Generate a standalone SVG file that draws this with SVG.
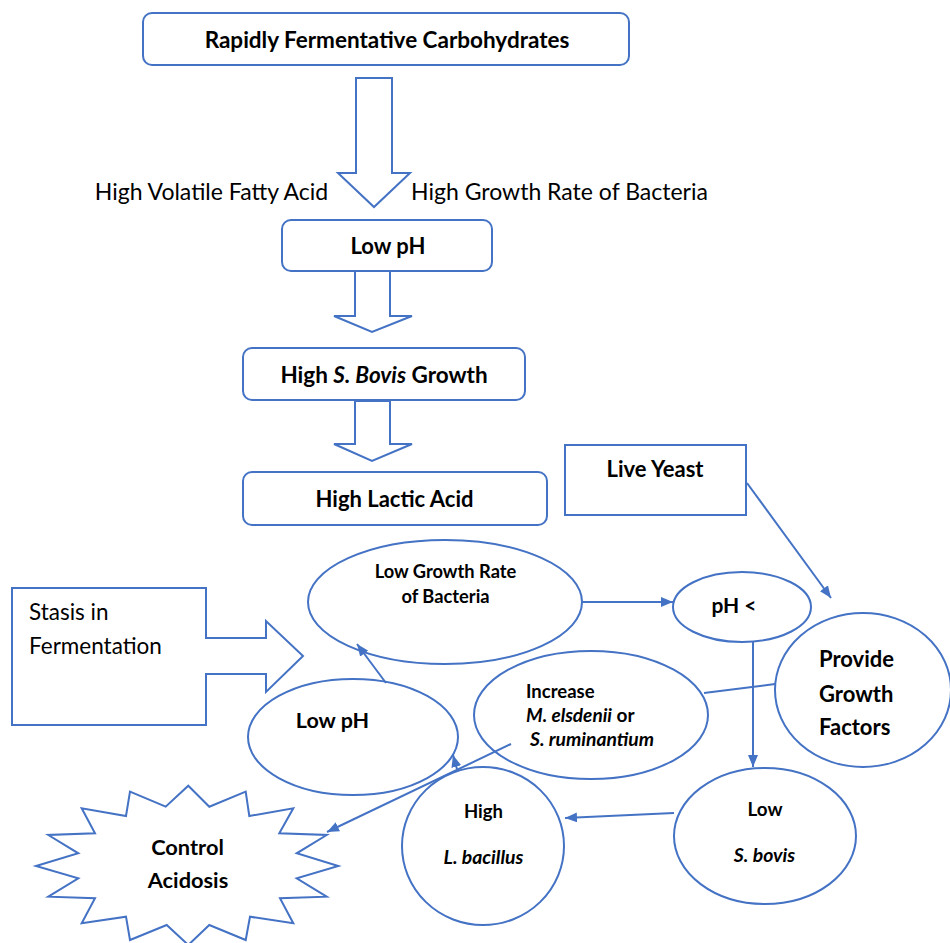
<svg xmlns="http://www.w3.org/2000/svg" width="950" height="943" viewBox="0 0 950 943">
<defs>
<style>
.s{fill:#fff;stroke:#4472C4;stroke-width:2}
.c{fill:none;stroke:#4472C4;stroke-width:2}
.b{font-family:Lato,"Liberation Sans",sans-serif;font-weight:bold;fill:#000}
.r{font-family:Lato,"Liberation Sans",sans-serif;fill:#000}
.m{text-anchor:middle}
</style>
<marker id="ah" viewBox="0 0 12 10" markerWidth="12" markerHeight="10" refX="12" refY="5" orient="auto" markerUnits="userSpaceOnUse">
<path d="M0,0 L12,5 L0,10 z" fill="#4472C4"/>
</marker>
</defs>
<rect width="950" height="943" fill="#fff"/>

<g id="n-carbs">
<rect class="s" x="143" y="13" width="486" height="52" rx="9"/>
<text class="b m" x="387" y="48" font-size="22.5">Rapidly Fermentative Carbohydrates</text>
</g>
<g id="a-top">
<polygon class="s" points="356,78 392,78 392,173 410,173 374,207 338,173 356,173"/>
<text class="r m" x="211.5" y="200" font-size="23">High Volatile Fatty Acid</text>
<text class="r m" x="559.5" y="200" font-size="23">High Growth Rate of Bacteria</text>
</g>
<g id="n-lowph1">
<rect class="s" x="282" y="220" width="210" height="51" rx="9"/>
<text class="b m" x="388" y="254" font-size="22">Low pH</text>
</g>
<g id="a-2">
<polygon class="s" points="355,271 390,271 390,316 412,316 372,332 334,316 355,316"/>
</g>
<g id="n-sbovis">
<rect class="s" x="243" y="348" width="282" height="52" rx="9"/>
<text class="b m" x="384" y="383" font-size="22.5">High <tspan font-style="italic">S. Bovis</tspan> Growth</text>
</g>
<g id="a-3">
<polygon class="s" points="355,401 390,401 390,444 412,444 372,461 334,444 355,444"/>
</g>
<g id="n-lactic">
<rect class="s" x="243" y="472" width="304" height="53" rx="9"/>
<text class="b m" x="394.5" y="507" font-size="22">High Lactic Acid</text>
</g>
<g id="n-yeast">
<rect class="s" x="565" y="445" width="181" height="70"/>
<text class="b m" x="655" y="477" font-size="22">Live Yeast</text>
</g>
<g id="n-stasis">
<polygon class="s" points="12,588 206,588 206,638 266,638 266,621 303,656 266,692 266,674 206,674 206,725 12,725"/>
<text class="r" x="29" y="620" font-size="22.5">Stasis in</text>
<text class="r" x="29" y="654" font-size="22.5">Fermentation</text>
</g>
<g id="n-lowgrowth">
<ellipse class="s" cx="445" cy="602" rx="137" ry="62"/>
<text class="b m" x="445.5" y="578" font-size="18.3">Low Growth Rate</text>
<text class="b m" x="445.5" y="603" font-size="18.3">of Bacteria</text>
</g>
<g id="n-phlt">
<ellipse class="s" cx="742" cy="607" rx="69" ry="35"/>
<text class="b m" x="734" y="613" font-size="21">pH &lt;</text>
</g>
<g id="n-provide">
<ellipse class="s" cx="863" cy="690" rx="88" ry="77"/>
<text class="b" x="819" y="667" font-size="22">Provide</text>
<text class="b" x="819" y="702" font-size="22">Growth</text>
<text class="b" x="819" y="735" font-size="22">Factors</text>
</g>
<g id="n-lowph2">
<ellipse class="s" cx="353" cy="737" rx="105" ry="58"/>
<text class="b m" x="332.5" y="728" font-size="21.5">Low pH</text>
</g>
<g id="n-increase">
<ellipse class="s" cx="591" cy="715" rx="117" ry="64"/>
<text class="b" x="526" y="698" font-size="18.5">Increase</text>
<text class="b" x="526" y="722" font-size="19">
<tspan font-style="italic">M. elsdenii</tspan> or</text>
<text class="b" x="530" y="746" font-size="19.3" font-style="italic">S. ruminantium</text>
</g>
<g id="n-lbacillus">
<ellipse class="s" cx="483" cy="846" rx="81" ry="79"/>
<text class="b m" x="483.5" y="818" font-size="18.5">High</text>
<text class="b m" x="483.5" y="864" font-size="19.4" font-style="italic">L. bacillus</text>
</g>
<g id="n-lowsbovis">
<ellipse class="s" cx="765" cy="836" rx="91" ry="68"/>
<text class="b m" x="765" y="816" font-size="18.8">Low</text>
<text class="b m" x="764.5" y="862" font-size="19.4" font-style="italic">S. bovis</text>
</g>
<g id="n-control">
<polygon class="s" points="188.3,785.7 209.3,806.7 245.7,791.7 249.3,816 293.3,808.3 279.3,833.3 326.7,835 296.7,853.3 338.3,866 296.7,878.3 326.7,896.7 280,898.3 293.3,923.3 250,916.7 245.7,940 209.3,925 188.3,945 166.7,925 130,940 126,916.7 81.7,923.3 95,898.3 48.3,896.7 78.3,878.3 36,866 78.3,853.3 48.3,835 95,833.3 81.7,808.3 126,816 130,791.7 165.7,806.7"/>
<text class="b m" x="187.5" y="855" font-size="21.8">Control</text>
<text class="b m" x="188" y="888" font-size="21.8">Acidosis</text>
</g>

<g id="connectors">
<line class="c" x1="747" y1="483" x2="831" y2="598" marker-end="url(#ah)"/>
<line class="c" x1="582" y1="602" x2="673" y2="602" marker-end="url(#ah)"/>
<line class="c" x1="753" y1="642" x2="753" y2="767" marker-end="url(#ah)"/>
<line class="c" x1="674" y1="813" x2="565" y2="818" marker-end="url(#ah)"/>
<line class="c" x1="775" y1="684" x2="704" y2="693"/>
<line class="c" x1="386" y1="683" x2="357" y2="644" marker-end="url(#ah)"/>
<line class="c" x1="457" y1="769" x2="453" y2="755" marker-end="url(#ah)"/>
<line class="c" x1="511" y1="744" x2="327" y2="832" marker-end="url(#ah)"/>
</g>
</svg>
